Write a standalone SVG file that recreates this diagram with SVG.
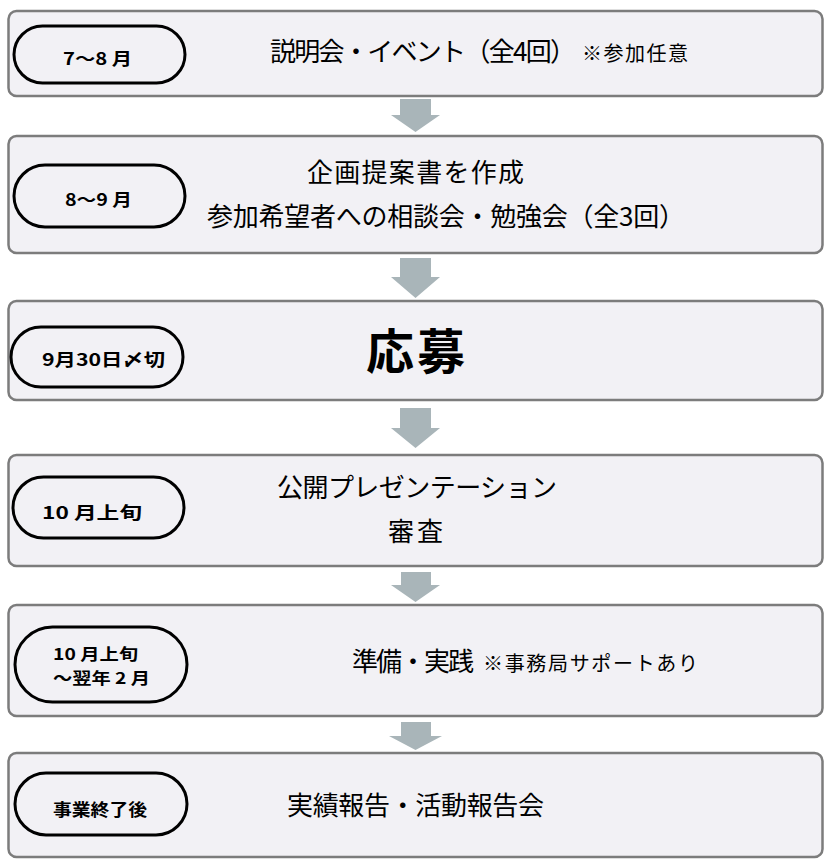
<svg xmlns="http://www.w3.org/2000/svg" width="830" height="862" viewBox="0 0 830 862">
<style>
.box{fill:#f2f1f5;stroke:#7c7c7c;stroke-width:2.5}
.pill{fill:#f2f1f5;stroke:#000;stroke-width:3}
.lbl{font-family:"Noto Sans CJK JP","Noto Sans",sans-serif;font-weight:700;font-size:17px;fill:#000}
.lbl2{font-family:"Noto Sans CJK JP","Noto Sans",sans-serif;font-weight:700;font-size:16px;fill:#000}
.main{font-family:"Noto Sans CJK JP","Noto Sans",sans-serif;font-weight:400;font-size:26px;fill:#000}
.note{font-family:"Noto Sans CJK JP","Noto Sans",sans-serif;font-weight:400;font-size:20px;fill:#000}
.big{font-family:"Noto Sans CJK JP","Noto Sans",sans-serif;font-weight:700;font-size:48px;fill:#000}
.arr{fill:#a9b5b9}
</style>
<rect width="830" height="862" fill="#fff"/>
<g id="connectors">
<polygon class="arr" points="400,99 431,99 431,115 440,115 415.5,132 391,115 400,115"/>
<polygon class="arr" points="400,258 431,258 431,277 440,277 415.5,298 391,277 400,277"/>
<polygon class="arr" points="400,408 431,408 431,428 440,428 415.5,448 391,428 400,428"/>
<polygon class="arr" points="401,572 431,572 431,585 440,585 415.5,602 391,585 401,585"/>
<polygon class="arr" points="401,722 431,722 431,736 442,736 415.5,750 389,736 401,736"/>
</g>
<g id="step1">
<rect class="box" x="8.5" y="11" width="814" height="85" rx="8"/>
<rect class="pill" x="14" y="26" width="171" height="57" rx="28.5"/>
<text class="lbl" x="63" y="65" textLength="69" lengthAdjust="spacingAndGlyphs">7〜8 月</text>
<text class="main" x="270" y="61" textLength="306">説明会・イベント（全4回）</text>
<text class="note" x="582" y="61" textLength="106">※参加任意</text>
</g>
<g id="step2">
<rect class="box" x="8.5" y="136" width="814" height="117" rx="8"/>
<rect class="pill" x="14" y="165" width="171" height="62" rx="31"/>
<text class="lbl" x="65" y="206" textLength="67" lengthAdjust="spacingAndGlyphs">8〜9 月</text>
<text class="main" x="307" y="182" textLength="217">企画提案書を作成</text>
<text class="main" x="207" y="226" textLength="478">参加希望者への相談会・勉強会（全3回）</text>
</g>
<g id="step3">
<rect class="box" x="8.5" y="301" width="814" height="99" rx="8"/>
<rect class="pill" x="11" y="327" width="172" height="60" rx="30"/>
<text class="lbl" x="42" y="366" textLength="123" lengthAdjust="spacingAndGlyphs">9月30日〆切</text>
<text class="big" x="366" y="369" textLength="99">応募</text>
</g>
<g id="step4">
<rect class="box" x="8.5" y="455" width="814" height="111" rx="8"/>
<rect class="pill" x="13" y="477" width="171" height="61" rx="30.5"/>
<text class="lbl" x="42" y="519" textLength="100" lengthAdjust="spacingAndGlyphs">10 月上旬</text>
<text class="main" x="277" y="497" textLength="280">公開プレゼンテーション</text>
<text class="main" x="388" y="541" textLength="55">審査</text>
</g>
<g id="step5">
<rect class="box" x="8.5" y="605" width="814" height="111" rx="8"/>
<rect class="pill" x="15" y="627" width="172" height="75" rx="37.5"/>
<text class="lbl2" x="53" y="660" textLength="85" lengthAdjust="spacingAndGlyphs">10 月上旬</text>
<text class="lbl2" x="53" y="684" textLength="97" lengthAdjust="spacingAndGlyphs">〜翌年 2 月</text>
<text class="main" x="352" y="671" textLength="122">準備・実践</text>
<text class="note" x="483" y="671" textLength="215">※事務局サポートあり</text>
</g>
<g id="step6">
<rect class="box" x="8.5" y="753" width="814" height="104" rx="8"/>
<rect class="pill" x="15" y="773" width="172" height="62" rx="31"/>
<text class="lbl" x="53" y="816" textLength="94" lengthAdjust="spacingAndGlyphs">事業終了後</text>
<text class="main" x="287" y="815" textLength="257">実績報告・活動報告会</text>
</g>
</svg>
